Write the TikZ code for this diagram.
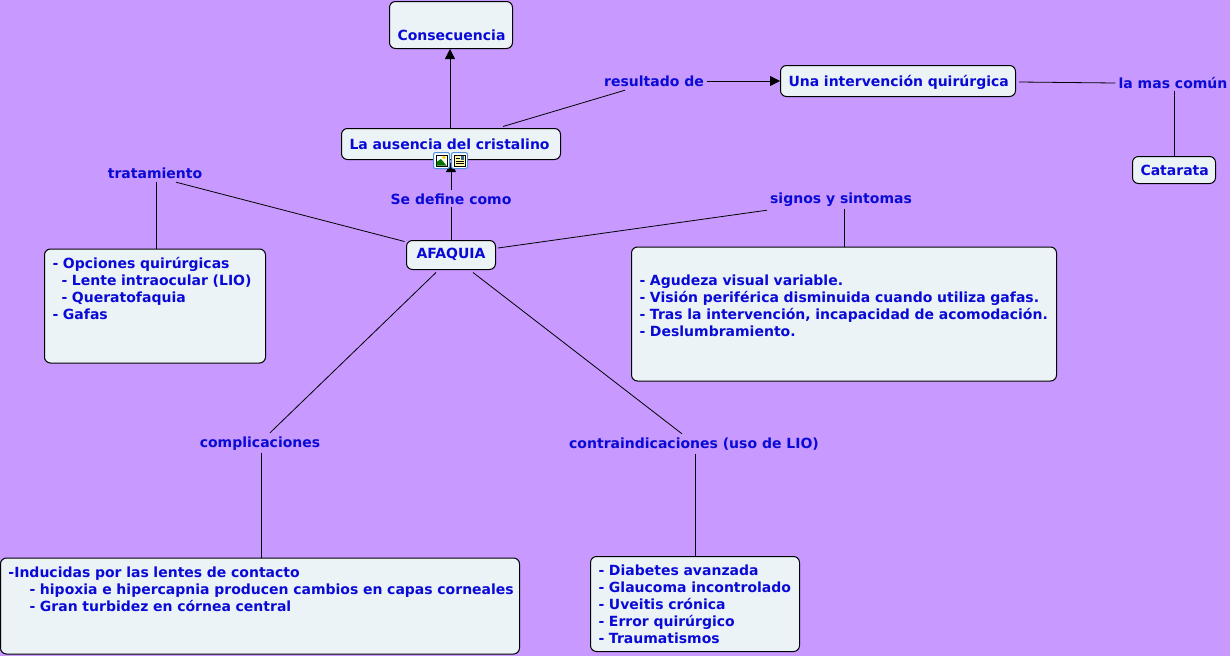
\documentclass[tikz,border=0pt]{standalone}
\usepackage{fontspec}
\setmainfont{DejaVu Sans}
\usetikzlibrary{arrows.meta}
\definecolor{fondo}{HTML}{C899FF}
\definecolor{relleno}{HTML}{EBF3F7}
\definecolor{tinta}{HTML}{0A0AD6}
\definecolor{iconazul}{HTML}{4F8FDC}
\tikzset{
    texto/.style={text=tinta,font=\fontsize{14}{17}\selectfont\bfseries},
    ajuste/.style={execute at begin node={\rule{0pt}{#1}\strut}},
    caja/.style={texto,draw=black,fill=relleno,rounded corners=6pt,line width=1pt,
        inner xsep=8pt,inner ysep=0pt,align=left,ajuste=16pt},
    frase/.style={texto,inner sep=0pt,text height=12pt,text depth=1pt},
    enlace/.style={draw=black,line width=0.8pt},
    flecha/.style={enlace,-{Triangle[length=10pt,width=10pt]}},
    icono/.style={draw=iconazul,fill=white,rounded corners=2pt,line width=1pt,
        minimum size=16pt,inner sep=0pt},
}
\begin{document}
\begin{tikzpicture}[x=1pt,y=-1pt]
    \useasboundingbox[fill=fondo] (0,0) rectangle (1230,656);
    \node[caja,text width=107pt,minimum height=47pt,align=center,ajuste=20pt] (consecuencia)
        at (451,25) {\\Consecuencia\strut};
    \node[caja,text width=203pt,minimum height=31pt,align=center,ajuste=12pt] (ausencia)
        at (451,144) {\mbox{La ausencia del cristalino\hspace{4pt}}};
    \node[caja,text width=219pt,minimum height=31pt,align=center] (intervencion)
        at (898,81) {\mbox{Una intervención quirúrgica}};
    \node[caja,text width=67pt,minimum height=27pt,align=center] (catarata)
        at (1174,170) {Catarata};
    \node[caja,text width=73pt,minimum height=29pt,align=center,ajuste=11.9pt] (afaquia)
        at (451,255) {AFAQUIA\rule[-9pt]{0pt}{9pt}};
    \node[caja,text width=205pt,minimum height=114pt,ajuste=12pt] (opciones)
        at (155,306) {- Opciones quirúrgicas\\
            \hspace*{9pt}- Lente intraocular (LIO)\\
            \hspace*{9pt}- Queratofaquia\\
            - Gafas\\\strut\\\strut};
    \node[caja,text width=409pt,minimum height=134pt] (sintomas)
        at (844,314) {\\- Agudeza visual variable.\\
            - Visión periférica disminuida cuando utiliza gafas.\\
            - Tras la intervención, incapacidad de acomodación.\\
            - Deslumbramiento.\\\strut\\\strut};
    \node[caja,text width=503pt,minimum height=96pt,ajuste=14pt] (inducidas)
        at (260,606) {-Inducidas por las lentes de contacto\\
            \mbox{\hspace*{21pt}- hipoxia e hipercapnia producen cambios en capas corneales}\\
            \hspace*{21pt}- Gran turbidez en córnea central\\\strut\\\strut};
    \node[caja,text width=193pt,minimum height=95pt] (diabetes)
        at (695,604) {- Diabetes avanzada\\
            - Glaucoma incontrolado\\
            - Uveitis crónica\\
            - Error quirúrgico\\
            - Traumatismos\strut};
    \node[frase] (resultado) at (654,81) {resultado de};
    \node[frase] (mascomun) at (1173,83) {la mas común};
    \node[frase] (define) at (451,199) {Se define como};
    \node[frase] (tratamiento) at (155,173) {tratamiento};
    \node[frase] (signos) at (841,198) {signos y sintomas};
    \node[frase] (complicaciones) at (260,442) {complicaciones};
    \node[frase] (contra) at (694,443) {contraindicaciones (uso de LIO)};
    \draw[flecha] ([xshift=-1pt]ausencia.north) -- ([xshift=-1pt]consecuencia.south);
    \draw[enlace] ([xshift=52pt,yshift=1.5pt]ausencia.north) -- ([xshift=-29pt,yshift=-2.5pt]resultado.south);
    \draw[flecha] ([xshift=3pt]resultado.east) -- (intervencion.west);
    \draw[enlace] ([xshift=3pt,yshift=-1pt]intervencion.east) -- ([xshift=-3pt]mascomun.west);
    \draw[enlace] ([xshift=1pt,yshift=-1.5pt]mascomun.south) -- (catarata.north);
    \draw[enlace] (afaquia.north) -- ([yshift=-1.5pt]define.south);
    \draw[flecha] ([yshift=2.5pt]define.north) -- ([yshift=-2pt]ausencia.south);
    \draw[enlace] ([xshift=21pt,yshift=-2.5pt]tratamiento.south) -- ([xshift=-1.5pt,yshift=-1.5pt]afaquia.north west);
    \draw[enlace] ([xshift=1pt,yshift=-2.5pt]tratamiento.south) -- ([xshift=1pt]opciones.north);
    \draw[enlace] ([xshift=2pt,yshift=7pt]afaquia.east) -- ([xshift=-74pt,yshift=-5.5pt]signos.south);
    \draw[enlace] ([xshift=3pt,yshift=-4.5pt]signos.south) -- (sintomas.north);
    \draw[enlace] ([xshift=-15pt,yshift=-2.5pt]afaquia.south) -- ([xshift=10pt,yshift=2.5pt]complicaciones.north);
    \draw[enlace] ([xshift=1pt,yshift=-4.5pt]complicaciones.south) -- ([xshift=1pt]inducidas.north);
    \draw[enlace] ([xshift=22pt,yshift=-2.5pt]afaquia.south) -- ([xshift=-12pt,yshift=2.5pt]contra.north);
    \draw[enlace] ([xshift=1pt,yshift=-4.5pt]contra.south) -- (diabetes.north);
    \node[icono] (imagen) at (441.5,160.5) {};
    \node[icono] (documento) at (459.5,160.5) {};
    \draw[black,line width=0.5pt] (436,155) rectangle (447,166);
    \fill[green!45!black] (436.5,165.5) -- (436.5,162) -- (441,159) -- (446.5,165.5) -- cycle;
    \fill[yellow!70!orange] (444,157.5) circle (1.8pt);
    \fill[yellow!35] (454,155) rectangle (465,166);
    \draw[black,line width=0.5pt] (454,155) rectangle (465,166);
    \draw[black,line width=0.6pt]
        (455.5,158) -- (459.5,158) (455.5,161) -- (463.5,161) (455.5,163.5) -- (463.5,163.5);
    \fill[iconazul!70!black] (460.5,156) rectangle (464,159.5);
\end{tikzpicture}
\end{document}
